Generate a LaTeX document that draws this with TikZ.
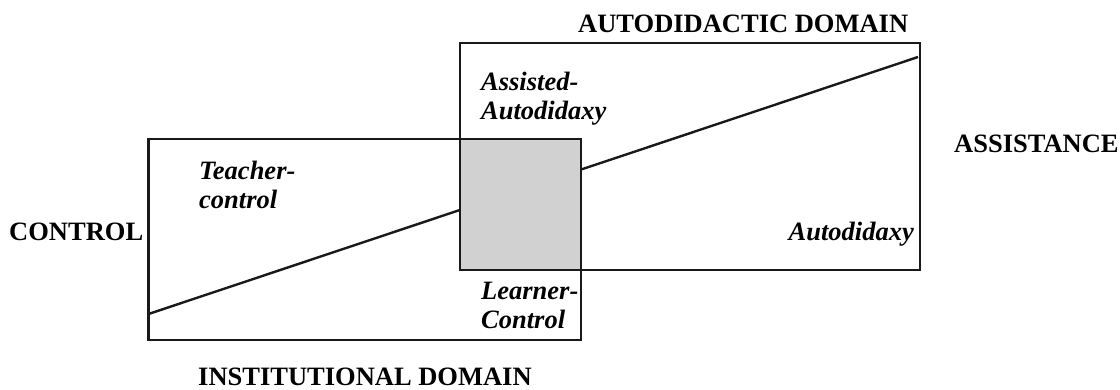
\documentclass[tikz,border=0pt]{standalone}
\usepackage{fontspec}
\setmainfont{Liberation Serif}
\begin{document}
\begin{tikzpicture}[x=1pt,y=-1pt,
  frame/.style={draw=black!90,line width=2.6pt},
  heading/.style={font=\fontsize{26.5}{29}\selectfont\bfseries,inner sep=0pt,anchor=base west},
  region/.style={font=\fontsize{26.5}{29}\selectfont\bfseries\itshape,inner sep=0pt,align=left,anchor=base west}]
  \useasboundingbox (0,0) rectangle (1120,389);
  % corners of the two domains
  \coordinate (instNW) at (148.5,139);
  \coordinate (instSE) at (581,340);
  \coordinate (autoNW) at (460,43);
  \coordinate (autoSE) at (920,270);
  % ends of the control/assistance gradient
  \coordinate (lowEnd) at (148.5,314);
  \coordinate (highEnd) at (918,57);
  \draw[line width=2.4pt,black!90] (lowEnd) -- (highEnd);
  % overlap of the two domains
  \fill[gray!36] (autoNW |- instNW) rectangle (instSE |- autoSE);
  \draw[frame] (instNW) rectangle (instSE);
  \draw[frame] (autoNW) rectangle (autoSE);
  % headings
  \node[heading] (autodom) at (578,32) {AUTODIDACTIC DOMAIN};
  \node[heading] (instdom) at (198,385) {INSTITUTIONAL DOMAIN};
  \node[heading] (control) at (9,240) {CONTROL};
  \node[heading] (assist) at (954,152) {ASSISTANCE};
  % region labels (anchored at the baseline of their last line)
  \node[region] (teacher) at (199,208) {Teacher-\\control};
  \node[region] (assisted) at (481,119) {Assisted-\\Autodidaxy};
  \node[region] (learner) at (481,328) {Learner-\\Control};
  \node[region,anchor=base east] (autodidaxy) at (914,240) {Autodidaxy};
\end{tikzpicture}
\end{document}
